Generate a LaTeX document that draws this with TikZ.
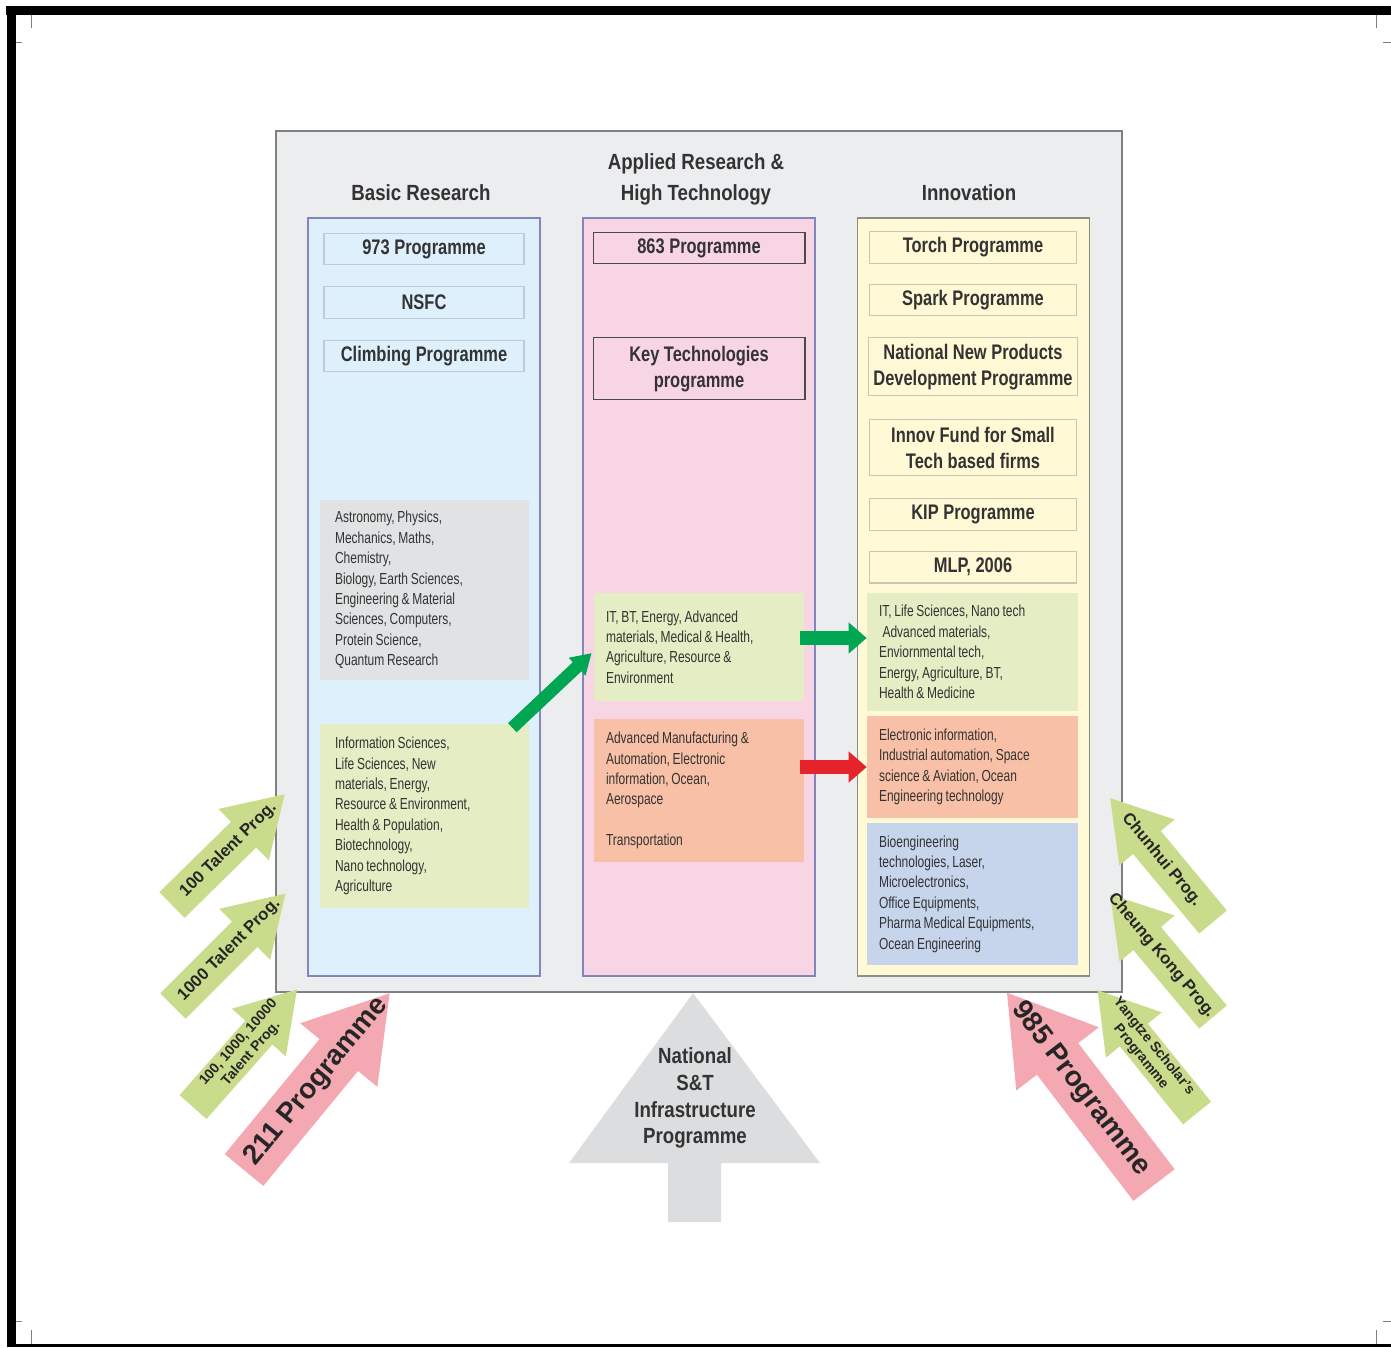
\documentclass[tikz,border=0pt]{standalone}
\usepackage{fontspec}
\setmainfont{Liberation Sans}
\newfontfamily\hdfont[FakeStretch=0.85]{Liberation Sans}
\newfontfamily\prgfont[FakeStretch=0.78]{Liberation Sans}
\newfontfamily\listfont[FakeStretch=0.75]{Liberation Sans}
\newcommand\tightspace{\spaceskip 0.17em plus 0.05em\relax}
\usetikzlibrary{positioning, calc, arrows.meta}

\definecolor{panelfill}{HTML}{ECEDEF}
\definecolor{panelline}{HTML}{808080}
\definecolor{bluecol}{HTML}{DDF0FC}
\definecolor{pinkcol}{HTML}{F8D5E5}
\definecolor{yellowcol}{HTML}{FFF9D6}
\definecolor{colline}{HTML}{8286B8}
\definecolor{yelline}{HTML}{8E8E80}
\definecolor{progline1}{HTML}{C4CAD2}
\definecolor{progline2}{HTML}{4A4A4A}
\definecolor{progline3}{HTML}{C8C6B4}
\definecolor{topicgray}{HTML}{E1E2E4}
\definecolor{topicgreen}{HTML}{E4EDC4}
\definecolor{topicsalmon}{HTML}{F8C0A6}
\definecolor{topicblue}{HTML}{C6D5EC}
\definecolor{arrowgreen}{HTML}{00A651}
\definecolor{arrowred}{HTML}{E4232A}
\definecolor{talentgreen}{HTML}{C9DC8C}
\definecolor{progpink}{HTML}{F4A9B2}
\definecolor{infragray}{HTML}{DCDDDF}
\definecolor{textgray}{HTML}{333333}

\tikzset{
  arrowlabel/.style={font=\bfseries\fontsize{9.5}{11}\selectfont, text=black!85, align=center, inner sep=0pt},
  pics/blockarrow/.style n args={4}{code={
    \fill[#3] (0,-#2) -- ({#1-3.2*#2},-#2) -- ({#1-3.2*#2},{-2*#2}) -- (#1,0)
      -- ({#1-3.2*#2},{2*#2}) -- ({#1-3.2*#2},#2) -- (0,#2) -- cycle;
    \node[arrowlabel, transform shape] (-label) at ({#1/2},0) {#4};
  }}
}

\begin{document}
\begin{tikzpicture} [x=0.02cm, y=-0.02cm,
  panel/.style={draw=panelline, fill=panelfill, line width=1pt, minimum width=16.92cm, minimum height=17.22cm, inner sep=0pt},
  column/.style={draw=#1, line width=0.8pt, minimum width=4.64cm, minimum height=15.16cm, inner sep=0pt},
  header/.style={font=\hdfont\bfseries\fontsize{12.5}{17.6}\selectfont, text=textgray, align=center},
  prog/.style={draw=#1, line width=0.6pt, font=\prgfont\bfseries\fontsize{12}{15}\selectfont, text=textgray, align=center, inner sep=1pt, minimum height=0.63cm},
  topic/.style={fill=#1, font=\listfont\fontsize{9.1}{11.6}\selectfont, execute at begin node=\tightspace, text=textgray, align=left, inner ysep=0pt},
  btopic/.style={topic=#1, inner xsep=0.3cm, text width=3.58cm},
  atopic/.style={topic=#1, inner xsep=0.24cm, text width=3.72cm},
  itopic/.style={topic=#1, inner xsep=0.24cm, text width=3.74cm},
  flow/.style={line width=0.28cm, -{Triangle[width=0.6cm, length=0.36cm]}}]

\useasboundingbox (0,0) rectangle (1391,1347);

% page frame and crop marks
\fill (6,6) rectangle (1391,15);
\fill (7,6) rectangle (16,1347);
\fill (7,1344) rectangle (1391,1347);
\draw [gray, line width=0.4pt] (31,15) -- (31,28) (1376,15) -- (1376,28) (16,42) -- (22,42) (1383,42) -- (1391,42);
\draw [gray, line width=0.4pt] (31,1330) -- (31,1344) (1376,1330) -- (1376,1344) (16,1321) -- (22,1321) (1383,1321) -- (1391,1321);

\node [panel] (panel) at (699,561.5) {};

\node [column=colline, fill=bluecol] (basic) at (424,597) {};
\node [column=colline, fill=pinkcol] (applied) at (699,597) {};
\node [column=yelline, fill=yellowcol] (innov) at (973.5,597) {};

\node [header] (hbasic) at (421,193) {Basic Research};
\node [header] (happlied) at (696,179) {Applied Research \&\\High Technology};
\node [header] (hinnov) at (969,193) {Innovation};

% basic research
\node [prog=progline1, fill=bluecol, minimum width=4cm] (p973) at (424,249) {973 Programme};
\node [prog=progline1, fill=bluecol, minimum width=4cm, below=0.42cm of p973] (nsfc) {NSFC};
\node [prog=progline1, fill=bluecol, minimum width=4cm, below=0.42cm of nsfc] (climb) {Climbing Programme};

\node [btopic=topicgray, minimum height=3.6cm] (bgray) at (424.5,590) {Astronomy, Physics,\\Mechanics, Maths,\\Chemistry,\\Biology, Earth Sciences,\\Engineering \& Material\\Sciences, Computers,\\Protein Science,\\Quantum Research};
\node [btopic=topicgreen, minimum height=3.68cm] (bfields) at (424.5,816) {Information Sciences,\\Life Sciences, New\\materials, Energy,\\Resource \& Environment,\\Health \& Population,\\Biotechnology,\\Nano technology,\\Agriculture};

% applied research
\node [prog=progline2, fill=pinkcol, minimum width=4.24cm] (p863) at (699,248) {863 Programme};
\node [prog=progline2, fill=pinkcol, minimum width=4.24cm, minimum height=1.24cm, below=1.46cm of p863] (keytech) {Key Technologies\\programme};

\node [atopic=topicgreen, minimum height=2.16cm] (afields) at (699,647) {IT, BT, Energy, Advanced\\materials, Medical \& Health,\\Agriculture, Resource \&\\Environment};
\node [atopic=topicsalmon, minimum height=2.86cm] (asalmon) at (699,790.5) {Advanced Manufacturing \&\\Automation, Electronic\\information, Ocean,\\Aerospace\\[11.6pt]Transportation};

% innovation
\node [prog=progline3, fill=yellowcol, minimum width=4.14cm] (torch) at (973,247.5) {Torch Programme};
\node [prog=progline3, fill=yellowcol, minimum width=4.14cm, below=0.4cm of torch] (spark) {Spark Programme};
\node [prog=progline3, fill=yellowcol, minimum width=4.18cm, minimum height=1.16cm, below=0.42cm of spark] (newprod) {National New Products\\Development Programme};
\node [prog=progline3, fill=yellowcol, minimum width=4.14cm, minimum height=1.12cm, below=0.46cm of newprod] (innovfund) {Innov Fund for Small\\Tech based firms};
\node [prog=progline3, fill=yellowcol, minimum width=4.14cm, below=0.44cm of innovfund] (kip) {KIP Programme};
\node [prog=progline3, fill=yellowcol, minimum width=4.14cm, below=0.4cm of kip] (mlp) {MLP, 2006};

\node [itopic=topicgreen, minimum height=2.36cm] (ifields) at (972.5,652) {IT, Life Sciences, Nano tech\\\hspace*{2pt}Advanced materials,\\Enviornmental tech,\\Energy, Agriculture, BT,\\Health \& Medicine};
\node [itopic=topicsalmon, minimum height=2.04cm] (isalmon) at (972.5,767) {Electronic information,\\Industrial automation, Space\\science \& Aviation, Ocean\\Engineering technology};
\node [itopic=topicblue, minimum height=2.84cm] (iblue) at (972.5,894) {Bioengineering\\technologies, Laser,\\Microelectronics,\\Office Equipments,\\Pharma Medical Equipments,\\Ocean Engineering};

% links between columns
\draw [flow, draw=arrowgreen, line width=0.25cm, -{Triangle[width=0.46cm, length=0.4cm]}] ($(bfields.north east)+(-17,4)$) -- ($(afields.west)+(-2,6)$);
\coordinate (gstart) at ($(afields.east)+(-4,-9)$);
\draw [flow, draw=arrowgreen] (gstart) -- (gstart -| ifields.west);
\draw [flow, draw=arrowred] ([xshift=-0.08cm]isalmon.west -| asalmon.east) -- (isalmon.west);

% talent and university programmes
\pic [rotate=44.5] (t100) at (172,905) {blockarrow={158}{18}{talentgreen}{100 Talent Prog.}};
\pic [rotate=45] (t1000) at (173,1006) {blockarrow={159}{18}{talentgreen}{1000 Talent Prog.}};
\pic [rotate=48.5, arrowlabel/.append style={font=\bfseries\fontsize{8}{9.5}\selectfont}] (t10000) at (193,1107) {blockarrow={157}{18}{talentgreen}{100, 1000, 10000\\Talent Prog.}};
\pic [rotate=50.5, arrowlabel/.append style={font=\bfseries\fontsize{16}{18}\selectfont}] (p211) at (244,1170) {blockarrow={229}{25}{progpink}{211 Programme}};

\pic [rotate=129.7, arrowlabel/.append style={rotate=180}] (chunhui) at (1213,922) {blockarrow={161}{18}{talentgreen}{Chunhui Prog.}};
\pic [rotate=130, arrowlabel/.append style={rotate=180}] (cheung) at (1213,1017) {blockarrow={160}{18}{talentgreen}{Cheung Kong Prog.}};
\pic [rotate=129, arrowlabel/.append style={rotate=180, font=\bfseries\fontsize{8}{9.5}\selectfont}] (yangtze) at (1197,1113) {blockarrow={158}{18}{talentgreen}{Yangtze Scholar's\\Programme}};
\pic [rotate=127.4, arrowlabel/.append style={rotate=180, font=\bfseries\fontsize{16}{18}\selectfont}] (p985) at (1154,1185) {blockarrow={242}{26}{progpink}{985 Programme}};

% infrastructure
\fill [infragray] (693,993) -- (820,1163) -- (721,1163) -- (721,1222) -- (668,1222) -- (668,1163) -- (569,1163) -- cycle;
\node [header, font=\hdfont\bfseries\fontsize{12.5}{15.2}\selectfont] (infra) at (695,1098) {National\\S\&T\\Infrastructure\\Programme};

\end{tikzpicture}
\end{document}
